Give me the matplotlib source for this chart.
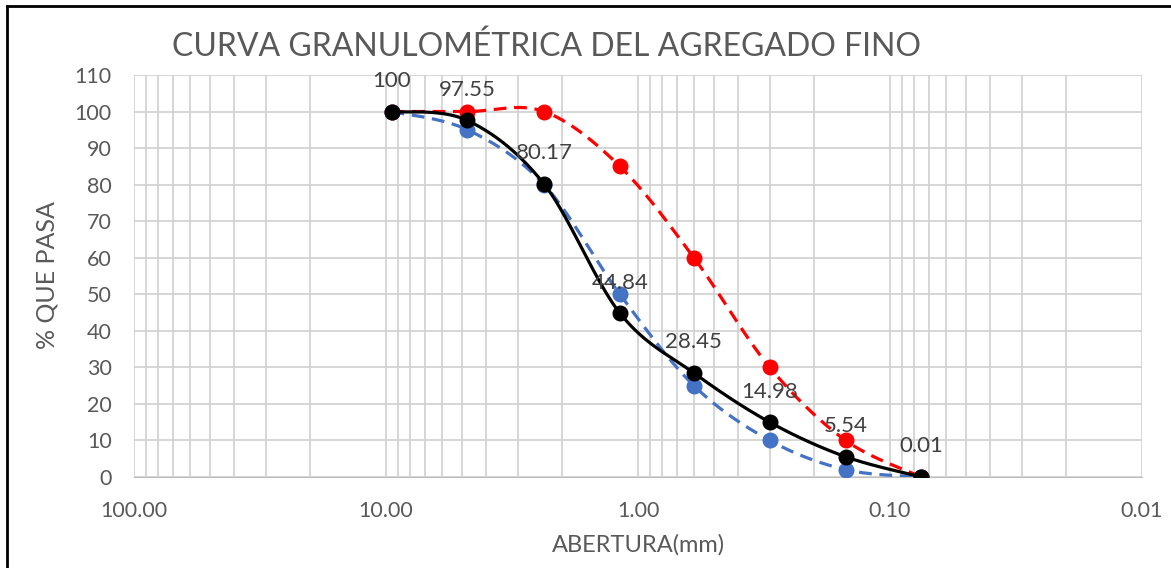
import numpy as np
import matplotlib.pyplot as plt
from matplotlib.lines import Line2D
from matplotlib.ticker import FixedLocator, FuncFormatter, NullFormatter

plt.rcParams['font.family'] = ['Lato', 'DejaVu Sans']

# datos del ensayo
abertura = [9.5, 4.75, 2.36, 1.18, 0.6, 0.3, 0.15, 0.075]
pasa = [100, 97.55, 80.17, 44.84, 28.45, 14.98, 5.54, 0.01]
lim_sup = [100, 100, 100, 85, 60, 30, 10, 0]
lim_inf = [100, 95, 80, 50, 25, 10, 2, 0]


def suave(x, y, n=40):
    # linea suavizada tipo excel (bezier / catmull-rom en escala log)
    p = np.column_stack([np.log10(x), y]).astype(float)
    out = []
    for i in range(len(p) - 1):
        p0 = p[i - 1] if i > 0 else p[i]
        p1, p2 = p[i], p[i + 1]
        p3 = p[i + 2] if i + 2 < len(p) else p[i + 1]
        c1 = p1 + (p2 - p0) / 6
        c2 = p2 - (p3 - p1) / 6
        t = np.linspace(0, 1, n)[:, None]
        seg = (1 - t)**3 * p1 + 3 * (1 - t)**2 * t * c1 + 3 * (1 - t) * t**2 * c2 + t**3 * p2
        out.append(seg)
    out = np.vstack(out)
    return 10**out[:, 0], out[:, 1]


W, H = 1171, 568
fig = plt.figure(figsize=(W/100, H/100), dpi=100)
ax = fig.add_axes([134/W, 1-477/H, (1142-134)/W, (477-75)/H])

gris = '#595959'
guion = (0, (4, 2.4))

xs, ys = suave(abertura, lim_sup)
ax.plot(xs, ys, color='#FF0000', lw=2.3, ls=guion, zorder=3)
ax.plot(abertura, lim_sup, 'o', color='#FF0000', ms=10.5, zorder=4)

xs, ys = suave(abertura, lim_inf)
ax.plot(xs, ys, color='#4472C4', lw=2.3, ls=guion, zorder=3)
ax.plot(abertura, lim_inf, 'o', color='#4472C4', ms=10.5, zorder=4)

xs, ys = suave(abertura, pasa)
ax.plot(xs, ys, color='black', lw=2.3, zorder=5)
ax.plot(abertura, pasa, 'o', color='black', ms=10.5, zorder=6)

for xv, yv in zip(abertura, pasa):
    ax.annotate(f'{yv:g}', (xv, yv), xytext=(0, 22), textcoords='offset points',
                ha='center', va='center', fontsize=16, color='#404040', zorder=7)

ax.set_xscale('log')
ax.set_xlim(100, 0.01)
ax.set_ylim(0, 110)
ax.set_yticks(range(0, 111, 10))
ax.xaxis.set_major_locator(FixedLocator([100, 10, 1, 0.1, 0.01]))
ax.xaxis.set_major_formatter(FuncFormatter(lambda v, p: f'{v:.2f}'))
menores = [m * 10.0**e for e in range(-2, 2) for m in range(2, 10)]
ax.xaxis.set_minor_locator(FixedLocator(menores))
ax.xaxis.set_minor_formatter(NullFormatter())

ax.grid(True, which='both', axis='x', color='#D0D0D0', lw=1.2)
ax.grid(True, which='major', axis='y', color='#D0D0D0', lw=1.2)
ax.set_axisbelow(True)
for s in ax.spines.values():
    s.set_visible(False)
ax.spines['bottom'].set_visible(True)
ax.spines['bottom'].set_color('#BFBFBF')
ax.tick_params(which='both', length=0, labelsize=15.5, colors=gris)
ax.tick_params(axis='y', pad=16)
ax.tick_params(axis='x', pad=17)

fig.text(546/W, 1-47/H, 'CURVA GRANULOMÉTRICA DEL AGREGADO FINO', fontsize=23,
         color=gris, ha='center', va='center')
fig.text(638/W, 1-545/H, 'ABERTURA(mm)', fontsize=17, color=gris,
         ha='center', va='center')
fig.text(47/W, 1-275/H, '% QUE PASA', fontsize=18, color=gris,
         ha='center', va='center', rotation=90)

# marco del documento
fig.add_artist(Line2D([7/W, 7/W], [0, 1-6/H], color='black', lw=2))
fig.add_artist(Line2D([7/W, 1], [1-6/H, 1-6/H], color='black', lw=2))

fig.savefig('out.png', dpi=100)
